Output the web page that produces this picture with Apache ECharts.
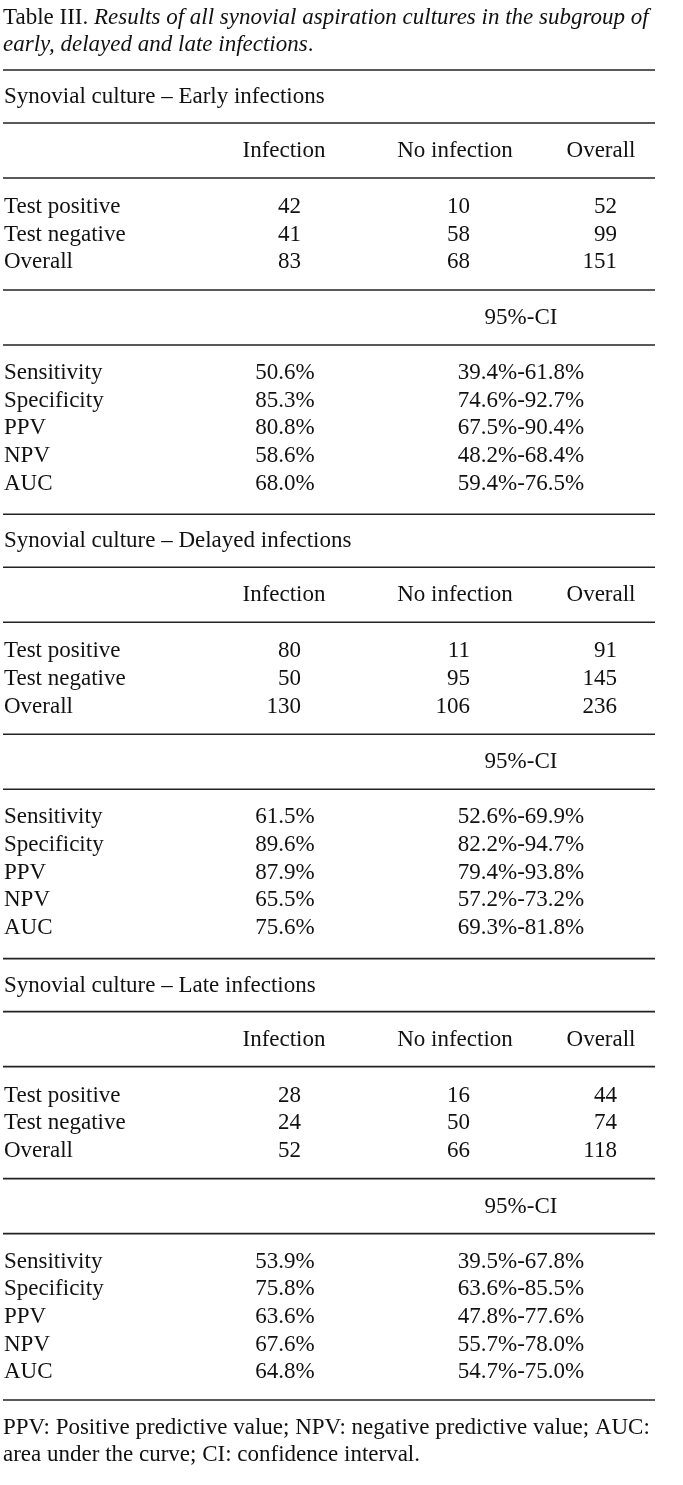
<!DOCTYPE html>
<html>
<head>
<meta charset="utf-8">
<script src="https://cdn.jsdelivr.net/npm/echarts@6/dist/echarts.min.js"></script>
<style>
html,body{margin:0;padding:0;background:#fff;}
#main{width:683px;height:1485px;}
</style>
</head>
<body>
<div id="main"></div>
<script>
// ---- data ----
var titleLead = "Table III. ";
var titleLine1 = "Results of all synovial aspiration cultures in the subgroup of";
var titleLine2 = "early, delayed and late infections";
var sectionTitles = ["Synovial culture \u2013 Early infections", "Synovial culture \u2013 Delayed infections", "Synovial culture \u2013 Late infections"];
var colHeaders = ["Infection", "No infection", "Overall"];
var countRows = ["Test positive", "Test negative", "Overall"];
var earlyCounts = [[42, 10, 52], [41, 58, 99], [83, 68, 151]];
var delayedCounts = [[80, 11, 91], [50, 95, 145], [130, 106, 236]];
var lateCounts = [[28, 16, 44], [24, 50, 74], [52, 66, 118]];
var ciHeader = "95%-CI";
var metricNames = ["Sensitivity", "Specificity", "PPV", "NPV", "AUC"];
var earlyMetrics = ["50.6%", "85.3%", "80.8%", "58.6%", "68.0%"];
var earlyCI = ["39.4%-61.8%", "74.6%-92.7%", "67.5%-90.4%", "48.2%-68.4%", "59.4%-76.5%"];
var delayedMetrics = ["61.5%", "89.6%", "87.9%", "65.5%", "75.6%"];
var delayedCI = ["52.6%-69.9%", "82.2%-94.7%", "79.4%-93.8%", "57.2%-73.2%", "69.3%-81.8%"];
var lateMetrics = ["53.9%", "75.8%", "63.6%", "67.6%", "64.8%"];
var lateCI = ["39.5%-67.8%", "63.6%-85.5%", "47.8%-77.6%", "55.7%-78.0%", "54.7%-75.0%"];
var footnote1 = "PPV: Positive predictive value; NPV: negative predictive value; AUC:";
var footnote2 = "area under the curve; CI: confidence interval.";

// ---- layout ----
var FONT = '"Liberation Serif", "Times New Roman", serif';
var FS = 23;
var COLOR = '#111';
var LX0 = 3, LX1 = 655;
var g = [];
function txt(x, y, s, align) {
  g.push({type: 'text', silent: true, style: {text: s, x: x, y: y, fill: COLOR, font: FS + 'px ' + FONT, textAlign: align || 'left', textVerticalAlign: 'middle'}});
}
function rule(y) {
  g.push({type: 'line', shape: {x1: LX0, y1: y, x2: LX1, y2: y}, style: {stroke: '#222', lineWidth: 1.6}, silent: true});
}
var rich = {n: {fontFamily: FONT, fontSize: FS, fill: COLOR}, i: {fontFamily: FONT, fontSize: FS, fontStyle: 'italic', fill: COLOR}};
g.push({type: 'text', silent: true, style: {x: 3, y: 18, textVerticalAlign: 'middle', fill: COLOR, text: '{n|' + titleLead + '}{i|' + titleLine1 + '}', rich: rich}});
g.push({type: 'text', silent: true, style: {x: 3, y: 45, textVerticalAlign: 'middle', fill: COLOR, text: '{i|' + titleLine2 + '}{n|.}', rich: rich}});

var counts = [earlyCounts, delayedCounts, lateCounts];
var metrics = [earlyMetrics, delayedMetrics, lateMetrics];
var cis = [earlyCI, delayedCI, lateCI];
var hdrX = [284, 455, 601];
var numRight = [301, 470, 617];
for (var s = 0; s < 3; s++) {
  var y0 = 97 + s * 444.3;
  rule(y0 - 27);
  txt(4, y0, sectionTitles[s]);
  rule(y0 + 26);
  for (var c = 0; c < 3; c++) txt(hdrX[c], y0 + 54, colHeaders[c], 'center');
  rule(y0 + 81);
  for (var r = 0; r < 3; r++) {
    var yy = y0 + 110 + r * 27.6;
    txt(4, yy, countRows[r]);
    for (var c2 = 0; c2 < 3; c2++) txt(numRight[c2], yy, String(counts[s][r][c2]), 'right');
  }
  rule(y0 + 193);
  txt(521, y0 + 221, ciHeader, 'center');
  rule(y0 + 248);
  for (var m = 0; m < 5; m++) {
    var ym = y0 + 276 + m * 27.7;
    txt(4, ym, metricNames[m]);
    txt(285, ym, metrics[s][m], 'center');
    txt(521, ym, cis[s][m], 'center');
  }
}
rule(1400);
txt(3, 1428, footnote1);
txt(3, 1455, footnote2);

var chart = echarts.init(document.getElementById('main'), null, {renderer: 'canvas'});
chart.setOption({backgroundColor: '#fff', animation: false, graphic: {elements: g}});
</script>
</body>
</html>
